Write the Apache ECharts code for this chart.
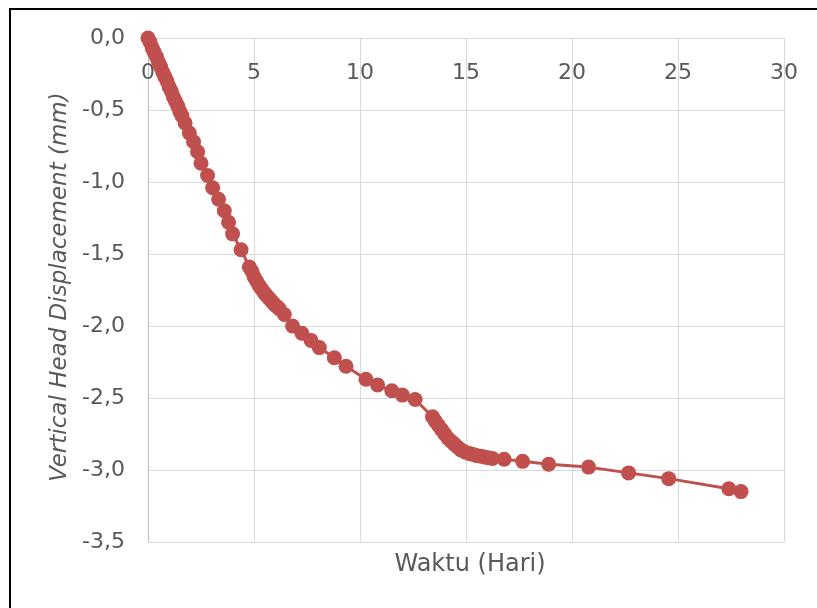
<!DOCTYPE html>
<html>
<head>
<meta charset="utf-8">
<script src="https://cdn.jsdelivr.net/npm/echarts@6/dist/echarts.min.js"></script>
<style>
html,body{margin:0;padding:0;background:#fff;}
#chart{width:817px;height:608px;}
</style>
</head>
<body>
<div id="chart"></div>
<script>
// Data
var waktuHari = [
  0, 0.1, 0.2, 0.3, 0.4, 0.5, 0.6, 0.7, 0.8, 0.9, 1.0, 1.1, 1.2, 1.3, 1.4, 1.5, 1.6, 1.75, 1.95,
  2.15, 2.34, 2.5, 2.81, 3.05, 3.33, 3.6, 3.8, 3.99, 4.39, 4.78, 4.9, 5.01, 5.13, 5.25, 5.37,
  5.49, 5.6, 5.72, 5.84, 5.96, 6.08, 6.19, 6.43, 6.82, 7.26, 7.69, 8.08, 8.79, 9.34, 10.28,
  10.83, 11.5, 12.0, 12.6, 13.42, 13.55, 13.7, 13.85, 14.0, 14.15, 14.3, 14.45, 14.6, 14.76,
  14.95, 15.15, 15.3, 15.5, 15.7, 15.86, 16.05, 16.25, 16.8, 17.67, 18.9, 20.78, 22.67, 24.56,
  27.4, 27.97
];
var displacementMm = [
  0, -0.03, -0.07, -0.1, -0.13, -0.17, -0.2, -0.24, -0.27, -0.3, -0.34, -0.37, -0.41, -0.44, -0.47, -0.51, -0.54, -0.59, -0.66,
  -0.72, -0.79, -0.87, -0.955, -1.04, -1.12, -1.2, -1.28, -1.36, -1.47, -1.59, -1.62, -1.66, -1.69, -1.72, -1.745,
  -1.77, -1.79, -1.81, -1.83, -1.85, -1.865, -1.88, -1.92, -2.0, -2.05, -2.1, -2.15, -2.22, -2.28, -2.37,
  -2.41, -2.45, -2.48, -2.51, -2.63, -2.66, -2.69, -2.72, -2.75, -2.78, -2.8, -2.82, -2.84, -2.86,
  -2.875, -2.885, -2.89, -2.9, -2.905, -2.91, -2.915, -2.92, -2.925, -2.94, -2.96, -2.98, -3.02, -3.06,
  -3.13, -3.15
];
var xTicks = [0, 5, 10, 15, 20, 25, 30];
var yTicks = [0, -0.5, -1, -1.5, -2, -2.5, -3, -3.5];
var xTitle = 'Waktu (Hari)';
var yTitle = 'Vertical Head Displacement (mm)';

var FONT = '"DejaVu Sans", sans-serif';
var TXT = '#595959';

var points = waktuHari.map(function (x, i) { return [x, displacementMm[i]]; });

var chart = echarts.init(document.getElementById('chart'), null, {renderer: 'canvas'});
chart.setOption({
  animation: false,
  backgroundColor: '#ffffff',
  grid: {left: 148, right: 33, top: 38, bottom: 66, containLabel: false},
  xAxis: {
    type: 'value',
    position: 'top',
    min: xTicks[0],
    max: xTicks[xTicks.length - 1],
    interval: 5,
    axisLine: {show: true, onZero: false, lineStyle: {color: '#d9d9d9', width: 1}},
    axisTick: {show: false},
    splitLine: {show: true, lineStyle: {color: '#d9d9d9', width: 1}},
    axisLabel: {inside: true, margin: 24, color: TXT, fontSize: 22, fontFamily: FONT}
  },
  yAxis: {
    type: 'value',
    min: yTicks[yTicks.length - 1],
    max: yTicks[0],
    interval: 0.5,
    axisLine: {show: true, onZero: false, lineStyle: {color: '#bfbfbf', width: 1}},
    axisTick: {show: false},
    splitLine: {show: true, lineStyle: {color: '#d9d9d9', width: 1}},
    axisLabel: {
      margin: 23, color: TXT, fontSize: 22, fontFamily: FONT,
      formatter: function (v) { return v.toFixed(1).replace('.', ','); }
    }
  },
  graphic: [
    {type: 'rect', shape: {x: 10, y: 9, width: 900, height: 700}, style: {fill: 'none', stroke: '#000', lineWidth: 2}, silent: true},
    {type: 'text', x: 470, y: 565, style: {text: xTitle, fill: TXT, font: '24px ' + FONT, textAlign: 'center', textVerticalAlign: 'middle'}},
    {type: 'text', x: 60, y: 287, rotation: Math.PI / 2, style: {text: yTitle, fill: TXT, font: 'italic 23px ' + FONT, textAlign: 'center', textVerticalAlign: 'middle'}}
  ],
  series: [{
    type: 'line',
    data: points,
    symbol: 'circle',
    symbolSize: 15,
    showAllSymbol: true,
    lineStyle: {color: '#C0504D', width: 3},
    itemStyle: {color: '#C0504D'},
    emphasis: {disabled: true}
  }]
});
</script>
</body>
</html>
